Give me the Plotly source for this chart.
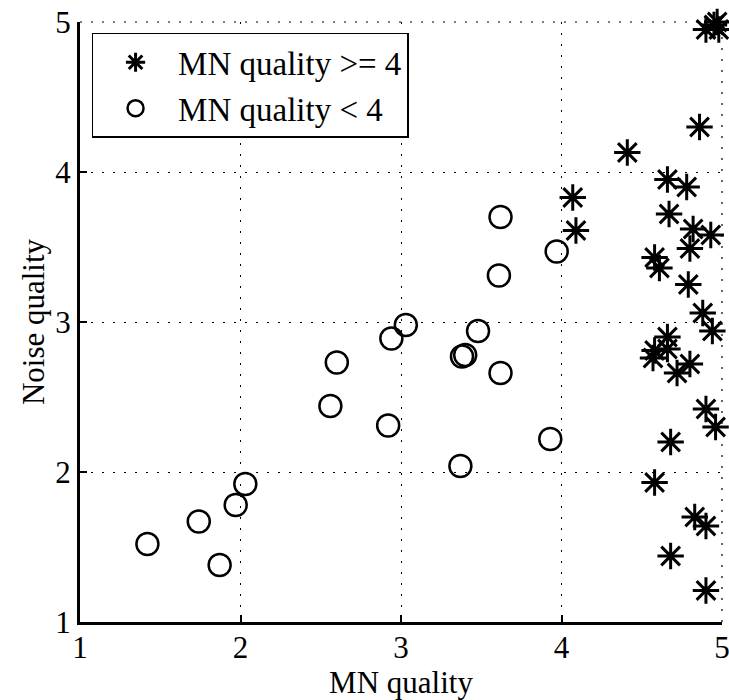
import plotly.graph_objects as go

# MN quality >= 4 (asterisks)
hi_x = [4.90, 4.95, 4.98, 4.97, 4.86, 4.41, 4.66, 4.78, 4.07, 4.67, 4.09, 4.82, 4.93,
        4.80, 4.58, 4.61, 4.79, 4.88, 4.94, 4.66, 4.58, 4.66, 4.57, 4.72, 4.80, 4.90,
        4.96, 4.68, 4.58, 4.83, 4.90, 4.68, 4.90]
hi_y = [4.95, 4.98, 4.95, 5.00, 4.30, 4.13, 3.95, 3.90, 3.83, 3.72, 3.61, 3.62, 3.58,
        3.49, 3.43, 3.36, 3.25, 3.06, 2.94, 2.90, 2.81, 2.82, 2.76, 2.66, 2.72, 2.42,
        2.30, 2.20, 1.93, 1.70, 1.64, 1.44, 1.21]

# MN quality < 4 (circles)
lo_x = [1.42, 1.74, 1.87, 1.97, 2.03, 3.62, 3.97, 3.61, 3.03, 2.94, 3.48, 3.38, 3.40,
        2.60, 3.62, 2.56, 2.92, 3.93, 3.37]
lo_y = [1.52, 1.67, 1.38, 1.78, 1.92, 3.70, 3.47, 3.31, 2.98, 2.89, 2.94, 2.77, 2.78,
        2.73, 2.66, 2.44, 2.31, 2.22, 2.04]

x_ticks = [1, 2, 3, 4, 5]
y_ticks = [1, 2, 3, 4, 5]

FONT = "Liberation Serif, Times New Roman, serif"
DOT = "2px,9px"

fig = go.Figure()
fig.add_trace(go.Scatter(
    x=hi_x, y=hi_y, mode="markers", name="MN quality >= 4", cliponaxis=False,
    marker=dict(symbol="asterisk-open", size=22, color="black",
                line=dict(color="black", width=3)),
))
fig.add_trace(go.Scatter(
    x=lo_x, y=lo_y, mode="markers", name="MN quality < 4", cliponaxis=False,
    marker=dict(symbol="circle-open", size=22, color="black",
                line=dict(color="black", width=2.5)),
))

axis_common = dict(
    range=[1, 5], showgrid=True, gridcolor="black", gridwidth=1.2,
    griddash=DOT, zeroline=False, showline=True, linecolor="black",
    linewidth=3, ticks="inside", ticklen=7, tickwidth=2, tickcolor="black",
    ticklabeloverflow="allow", automargin=False,
    tickfont=dict(family=FONT, size=31, color="black"),
    title_font=dict(family=FONT, size=31, color="black"),
)

# dotted grid lines along the top and right edges (grid at 5)
fig.add_shape(type="line", xref="x domain", yref="y domain", x0=1, x1=1, y0=0, y1=1,
              line=dict(color="black", width=1.2, dash=DOT), layer="below")
fig.add_shape(type="line", xref="x domain", yref="y domain", x0=0, x1=1, y0=1, y1=1,
              line=dict(color="black", width=1.2, dash=DOT), layer="below")

fig.update_layout(
    width=729, height=700,
    margin=dict(l=80, r=7, t=22, b=78, autoexpand=False),
    paper_bgcolor="white", plot_bgcolor="white",
    showlegend=True,
    legend=dict(x=0.018, y=0.982, xanchor="left", yanchor="top",
                bgcolor="white", bordercolor="black", borderwidth=1.5,
                font=dict(family=FONT, size=33, color="black"),
                tracegroupgap=0, itemwidth=75),
    xaxis=dict(axis_common, tickvals=x_ticks, ticktext=[str(v) for v in x_ticks],
               ticklabelstandoff=-4,
               title=dict(text="MN quality", standoff=0)),
    yaxis=dict(axis_common, tickvals=y_ticks, ticktext=[str(v) for v in y_ticks],
               title=dict(text="Noise quality", standoff=2)),
)

fig.write_html("out.html")
